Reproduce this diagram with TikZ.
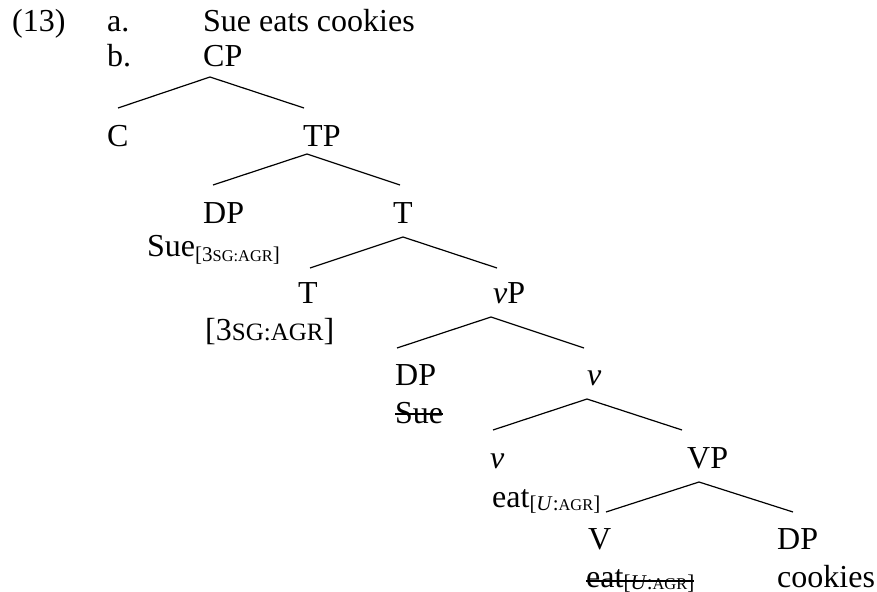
\documentclass[tikz,border=0pt]{standalone}
\usepackage{fontspec}
\setmainfont{Liberation Serif}
\usetikzlibrary{calc}
\newcommand\bigsz{\fontsize{32}{35}\selectfont}
\newcommand\subsz{\fontsize{21}{23}\selectfont}
\newcommand\bigsc[1]{{\fontsize{25}{28}\selectfont #1}}
\newcommand\subsc[1]{{\fontsize{16.4}{18}\selectfont #1}}
\newcommand\subx[2][-4pt]{\raisebox{#1}{\subsz #2}}
\begin{document}
\begin{tikzpicture}[x=1pt,y=-1pt,
  lbl/.style={inner sep=0pt, anchor=base west, font=\bigsz},
  branch/.style={line width=1.2pt},
  strike/.style={line width=1.2pt}]
\useasboundingbox (0,0) rectangle (877,591);
% header
\node[lbl] (ex) at (12,32) {(13)};
\node[lbl] (a) at (107,32) {a.};
\node[lbl] (b) at (107,67) {b.};
\node[lbl] (sent) at (203,32) {Sue eats cookies};
% tree labels
\node[lbl] (CP) at (203,67) {CP};
\node[lbl] (C) at (107,146) {C};
\node[lbl] (TP) at (303,146) {TP};
\node[lbl] (DPa) at (203,223) {DP};
\node[lbl] (Tbar) at (393,223) {T};
\node[lbl] (suea) at (147,256) {Sue\subx[-5pt]{[3\subsc{SG:AGR}]}};
\node[lbl] (T) at (298,303) {T};
\node[lbl] (vP) at (493,303) {\textit{v}P};
\node[lbl] (Tfeat) at (205,340) {[3\bigsc{SG:AGR}]};
\node[lbl] (DPb) at (395,385) {DP};
\node[lbl] (vbar) at (587,385) {\textit{v}};
\node[lbl] (sueb) at (395,423) {Sue};
\node[lbl] (v) at (490,468) {\textit{v}};
\node[lbl] (VP) at (687,468) {VP};
\node[lbl] (eata) at (492,507) {eat\subx[-3pt]{[\textit{U}:\subsc{AGR}]}};
\node[lbl] (V) at (588,549) {V};
\node[lbl] (DPc) at (777,549) {DP};
\node[lbl] (eatb) at (586,587) {eat\subx[-2pt]{[\textit{U}:\subsc{AGR}]}};
\node[lbl] (cook) at (777,587) {cookies};
% branch coordinates
\coordinate (cpA) at (210,77);  \coordinate (cpL) at (118,108); \coordinate (cpR) at (304,108);
\coordinate (tpA) at (307,154); \coordinate (tpL) at (213,185); \coordinate (tpR) at (400,185);
\coordinate (tbA) at (403,237); \coordinate (tbL) at (310,268); \coordinate (tbR) at (497,268);
\coordinate (vpA) at (491,317); \coordinate (vpL) at (397,348); \coordinate (vpR) at (584,348);
\coordinate (vbA) at (587,399); \coordinate (vbL) at (493,430); \coordinate (vbR) at (682,430);
\coordinate (VPA) at (699,482); \coordinate (VPL) at (606,512); \coordinate (VPR) at (793,512);
\draw[branch] (cpL) -- (cpA) -- (cpR);
\draw[branch] (tpL) -- (tpA) -- (tpR);
\draw[branch] (tbL) -- (tbA) -- (tbR);
\draw[branch] (vpL) -- (vpA) -- (vpR);
\draw[branch] (vbL) -- (vbA) -- (vbR);
\draw[branch] (VPL) -- (VPA) -- (VPR);
% strike-throughs
\draw[strike] ($(sueb.base west)+(0,-9)$) -- ($(sueb.base east)+(0,-9)$);
\draw[strike] ($(eatb.base west)+(0,-6)$) -- ($(eatb.base east)+(0,-6)$);
\end{tikzpicture}
\end{document}
